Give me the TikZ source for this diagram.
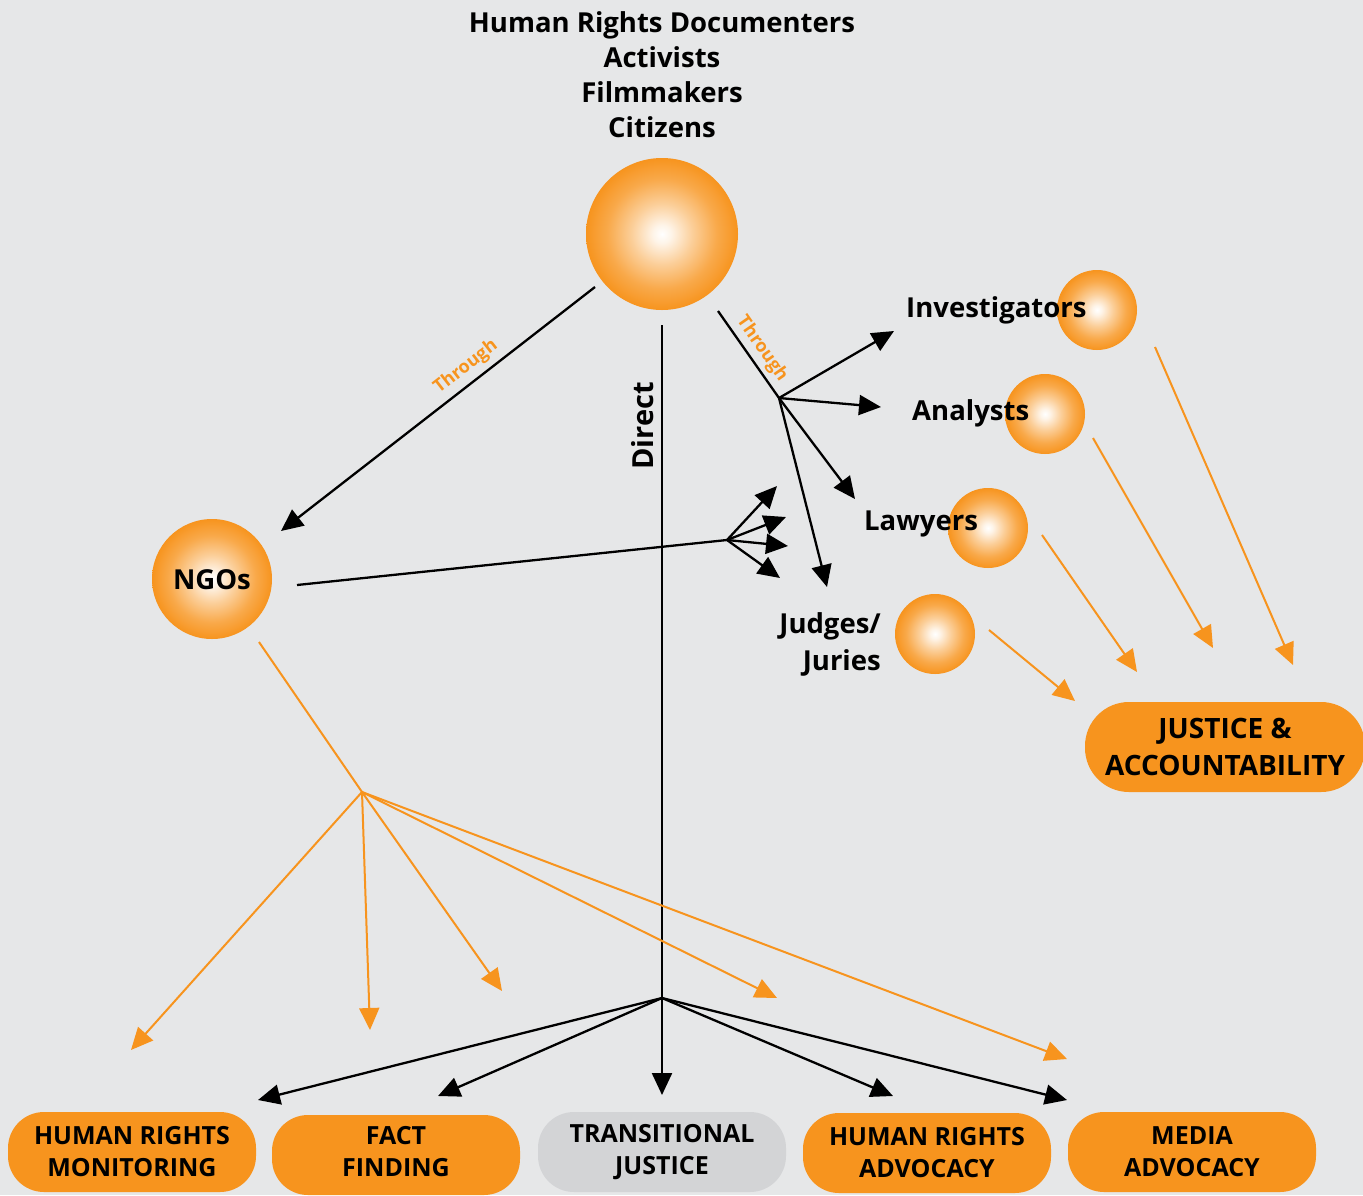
\documentclass[tikz,border=0pt]{standalone}
\usepackage{fontspec}
\setmainfont{Open Sans}
\usetikzlibrary{arrows.meta}
\definecolor{orng}{HTML}{F7941E}
\definecolor{bgc}{HTML}{E6E7E8}
\definecolor{gbox}{HTML}{D3D4D6}
\pgfdeclareradialshading{ballshade}{\pgfpoint{0bp}{0bp}}{color(0bp)=(white); color(3bp)=(orng!10!white); color(10bp)=(orng!45!white); color(18bp)=(orng!80!white); color(25bp)=(orng); color(50bp)=(orng)}
\tikzset{
  ball/.style={circle, inner sep=0pt, shading=ballshade},
  blk/.style={draw=black, line width=2.3pt, -{Triangle[length=22pt,width=20pt]}},
  blkl/.style={draw=black, line width=2.3pt},
  org/.style={draw=orng, line width=2pt, -{Triangle[length=22pt,width=20pt]}},
  orgl/.style={draw=orng, line width=2pt},
  boxo/.style={fill=orng, rounded corners=36pt, minimum width=248pt, minimum height=80pt, align=center, inner sep=0pt, font=\bfseries\fontsize{25}{32}\selectfont},
  lbl/.style={font=\bfseries\fontsize{27.5}{37}\selectfont, inner sep=0pt},
  thr/.style={text=orng, font=\bfseries\fontsize{18}{20}\selectfont, inner sep=0pt}
}
\begin{document}
\begin{tikzpicture}[x=1pt,y=-1pt]
\fill[bgc] (0,0) rectangle (1363,1195);
\useasboundingbox (0,0) rectangle (1363,1195);

% title
\node[font=\bfseries\fontsize{27.5}{35}\selectfont, align=center, inner sep=0pt] (title) at (662,75) {Human Rights Documenters\\Activists\\Filmmakers\\Citizens};

% balls
\node[ball, minimum size=152pt] (top) at (662,234) {};
\node[ball, minimum size=120pt] (ngo) at (212,579) {};
\node[ball, minimum size=80pt] (binv) at (1097,310) {};
\node[ball, minimum size=80pt] (bana) at (1045,414) {};
\node[ball, minimum size=80pt] (blaw) at (988,528) {};
\node[ball, minimum size=80pt] (bjud) at (935,634) {};

\node[lbl] (ngotxt) at (212,580) {NGOs};
\node[lbl, anchor=west] (inv) at (906,310) {Investigators};
\node[lbl, anchor=west] (ana) at (912,413) {Analysts};
\node[lbl, anchor=west] (law) at (864,524) {Lawyers};
\node[lbl, anchor=east, align=right] (jud) at (881,644) {Judges/\\Juries};

% bottom boxes
\node[boxo] (hrm) at (132,1152) {HUMAN RIGHTS\\MONITORING};
\node[boxo, text depth=8pt] (ff) at (396,1155) {FACT\\FINDING};
\node[boxo, fill=gbox] (tj) at (662,1152) {TRANSITIONAL\\JUSTICE};
\node[boxo] (hra) at (927,1153) {HUMAN RIGHTS\\ADVOCACY};
\node[boxo] (ma) at (1192,1152) {MEDIA\\ADVOCACY};
\node[boxo, minimum width=280pt, minimum height=90pt, rounded corners=44pt, font=\bfseries\fontsize{28}{37}\selectfont] (ja) at (1225,747) {JUSTICE \&\\ACCOUNTABILITY};

% coordinates
\coordinate (tA) at (595,287); \coordinate (tNgo) at (281,531);
\coordinate (dS) at (662,325); \coordinate (dB) at (662,998); \coordinate (dT) at (662,1095);
\coordinate (thS) at (718,311); \coordinate (thB) at (779,398);
\coordinate (t1) at (894,331); \coordinate (t2) at (881,407); \coordinate (t3) at (855,499); \coordinate (t4) at (827,587);
\coordinate (nS) at (297,585); \coordinate (nB) at (727,540);
\coordinate (n1) at (777,486); \coordinate (n2) at (786,517); \coordinate (n3) at (788,546); \coordinate (n4) at (780,578);
\coordinate (oS) at (259,642); \coordinate (oB) at (362,792);
\coordinate (o1) at (131,1050); \coordinate (o2) at (370,1030); \coordinate (o3) at (502,991); \coordinate (o4) at (777,998); \coordinate (o5) at (1067,1059);
\coordinate (b1) at (258,1100); \coordinate (b2) at (438,1096); \coordinate (b4) at (893,1096); \coordinate (b5) at (1067,1100);
\coordinate (j1s) at (1155,347); \coordinate (j1) at (1293,665);
\coordinate (j2s) at (1093,438); \coordinate (j2) at (1213,648);
\coordinate (j3s) at (1042,535); \coordinate (j3) at (1137,672);
\coordinate (j4s) at (989,630); \coordinate (j4) at (1075,701);

% connectors
\draw[blk] (tA) -- (tNgo);
\draw[blk] (dS) -- (dT);
\draw[blkl] (thS) -- (thB);
\foreach \t in {t1,t2,t3,t4} \draw[blk] (thB) -- (\t);
\draw[blkl] (nS) -- (nB);
\foreach \t in {n1,n2,n3,n4} \draw[blk] (nB) -- (\t);
\foreach \t in {b1,b2,b4,b5} \draw[blk] (dB) -- (\t);
\draw[orgl] (oS) -- (oB);
\foreach \t in {o1,o2,o3,o4,o5} \draw[org] (oB) -- (\t);
\draw[org] (j1s) -- (j1);
\draw[org] (j2s) -- (j2);
\draw[org] (j3s) -- (j3);
\draw[org] (j4s) -- (j4);

% labels
\node[thr, rotate=37.8] (th1) at (466,367) {Through};
\node[thr, rotate=-55] (th2) at (762,349) {Through};
\node[lbl, rotate=90, font=\bfseries\fontsize{29}{30}\selectfont] (direct) at (643,426) {Direct};
\end{tikzpicture}
\end{document}
